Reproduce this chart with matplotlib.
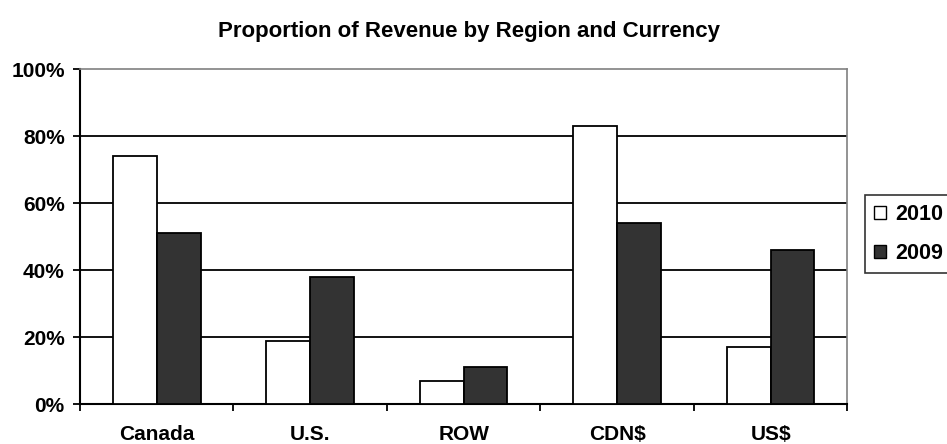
import matplotlib
matplotlib.use("Agg")
import matplotlib.pyplot as plt
import numpy as np
from matplotlib.ticker import FuncFormatter, FixedLocator

plt.rcParams['font.family'] = ['Liberation Sans', 'DejaVu Sans']

categories = ["Canada", "U.S.", "ROW", "CDN$", "US$"]
series_names = ["2010", "2009"]
values_2010 = [74, 19, 7, 83, 17]
values_2009 = [51, 38, 11, 54, 46]
yticks = [0, 20, 40, 60, 80, 100]
title = "Proportion of Revenue by Region and Currency"

FS = 15

fig = plt.figure(figsize=(9.47, 4.44), dpi=100)
ax = fig.add_axes([80/947, 1-404.3/444, (847.3-80)/947, (404.3-69)/444])

x = np.arange(len(categories))
w = 1/3.5
ax.bar(x - w/2, values_2010, w, color="white", edgecolor="black", linewidth=1.3,
       label=series_names[0], zorder=3)
ax.bar(x + w/2, values_2009, w, color="#333333", edgecolor="black", linewidth=1.3,
       label=series_names[1], zorder=3)

ax.set_xlim(-0.5, len(categories) - 0.5)
ax.set_ylim(0, 100)
ax.set_yticks(yticks)
ax.yaxis.set_major_formatter(FuncFormatter(lambda v, p: f"{int(v)}%"))
for t in yticks[1:-1]:
    ax.axhline(t, color="black", linewidth=1.3, zorder=1)

ax.set_xticks(x)
ax.set_xticklabels(categories, fontweight="bold", fontsize=FS)
ax.tick_params(axis="x", which="major", length=0, pad=15)
ax.xaxis.set_minor_locator(FixedLocator(np.arange(-0.5, len(categories), 1.0)))
ax.tick_params(axis="x", which="minor", length=5, width=1.3, direction="out")
ax.tick_params(axis="y", length=5, width=1.3, direction="out", labelsize=FS, pad=6)
for lab in ax.get_yticklabels():
    lab.set_fontweight("bold")

for s in ["left", "bottom"]:
    ax.spines[s].set_color("black")
    ax.spines[s].set_linewidth(1.5)
for s in ["top", "right"]:
    ax.spines[s].set_color("#808080")
    ax.spines[s].set_linewidth(1.2)

fig.text(469/947, 1-31/444, title, ha="center", va="center", fontsize=16, fontweight="bold")

leg = fig.legend(loc="upper left", bbox_to_anchor=(865/947, 1-195/444), frameon=True,
                 fancybox=False, edgecolor="black", prop={"weight": "bold", "size": 15.5},
                 handlelength=0.55, handleheight=0.55, handletextpad=0.45, borderpad=0.42,
                 labelspacing=0.85, borderaxespad=0)
leg.get_frame().set_linewidth(1.2)
for h in leg.legend_handles:
    h.set_linewidth(1.0)

fig.savefig("out.png", dpi=100, facecolor="white")
